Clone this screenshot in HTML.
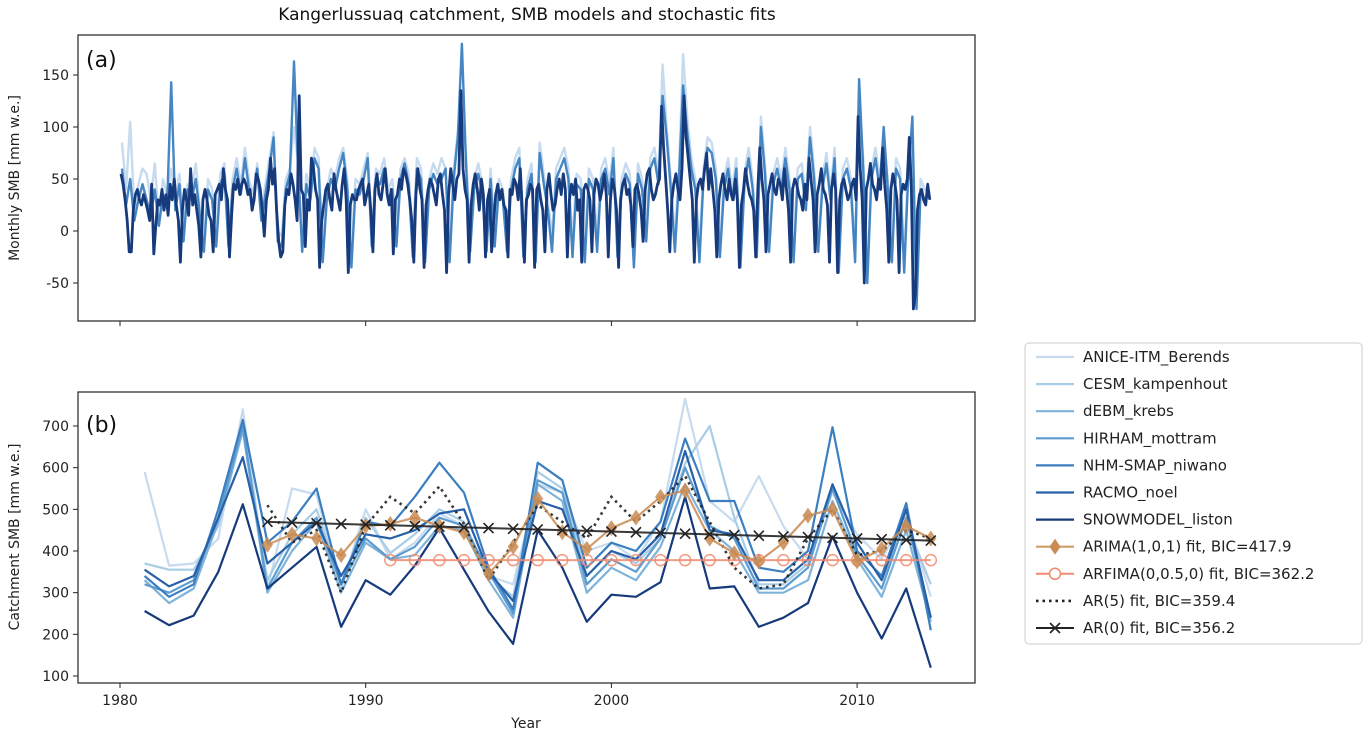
<!DOCTYPE html>
<html><head><meta charset="utf-8">
<style>
body{margin:0;background:#fff;font-family:"Liberation Sans","DejaVu Sans",sans-serif;}
svg text{font-family:"DejaVu Sans","Liberation Sans",sans-serif;}
</style></head>
<body>
<svg id="chart" width="1370" height="738" viewBox="0 0 1370 738" xmlns="http://www.w3.org/2000/svg">
<text x="527" y="20" text-anchor="middle" font-size="17" fill="#111">Kangerlussuaq catchment, SMB models and stochastic fits</text>
<g id="pa"></g>
<g id="pb"></g>
<g id="leg"></g>
</svg>
<script>
const modelNames=["ANICE-ITM_Berends","CESM_kampenhout","dEBM_krebs","HIRHAM_mottram","NHM-SMAP_niwano","RACMO_noel","SNOWMODEL_liston"];
const modelColors=["#c6dbef","#a8cde5","#7fb3da","#5b9bd0","#3c7fc0","#2760a8","#163a7c"];
const annYears=[];for(let y=1981;y<=2013;y++)annYears.push(y);
const aniceAnn=[590,365,370,430,740,310,550,535,310,500,380,420,490,460,340,320,560,540,400,420,380,470,765,520,470,580,460,380,540,440,380,490,290];
const cesmAnn=[370,355,355,460,690,330,440,500,320,480,395,440,500,470,340,290,590,550,340,400,370,430,610,700,480,320,320,370,560,420,330,470,320];
const debmAnn=[330,275,310,470,690,300,400,470,300,420,380,390,460,450,330,240,560,520,300,360,330,410,560,450,400,300,300,330,520,380,290,450,230];
const hirhamAnn=[320,300,330,480,700,310,420,480,320,430,380,410,480,460,350,250,570,540,320,380,350,430,600,460,430,310,310,360,550,390,310,480,240];
const nhmAnn=[340,290,320,500,715,420,470,550,320,470,460,530,612,540,360,260,612,570,360,420,400,470,670,520,520,360,350,400,697,400,340,515,210];
const racmoAnn=[355,315,340,480,625,370,420,470,340,440,430,450,490,500,350,280,520,500,340,400,380,440,640,450,440,330,330,380,560,420,330,500,240];
const snowAnn=[256,222,245,350,512,310,360,410,218,330,295,365,455,355,255,177,450,360,230,295,290,325,530,310,315,218,240,275,435,300,190,310,120];
const modelAnn=[aniceAnn,cesmAnn,debmAnn,hirhamAnn,nhmAnn,racmoAnn,snowAnn];
const fitYears=[];for(let y=1986;y<=2013;y++)fitYears.push(y);
const arimaVals=[415,440,430,390,460,465,480,460,445,345,410,525,445,405,455,480,530,545,430,395,375,420,485,500,375,405,460,430];
const ar5Vals=[510,420,450,300,460,530,490,555,465,330,420,510,470,430,530,470,520,580,470,360,310,320,430,500,390,400,450,430];
const arfimaYears=[];for(let y=1991;y<=2013;y++)arfimaYears.push(y);
const arfimaVals=arfimaYears.map(()=>378);
const ar0Start=470, ar0End=425;
const yTicksA=[-50,0,50,100,150];
const yTicksB=[100,200,300,400,500,600,700];
const xTicks=[1980,1990,2000,2010];
const snowMonthly=[
55,45,30,10,-20,-20,20,35,40,30,25,35,
28,20,10,45,-22,5,30,25,40,20,35,15,
45,30,50,25,10,-30,20,40,30,15,60,25,
35,20,5,-25,30,40,30,15,10,-20,35,40,
45,30,60,40,30,-25,15,45,40,50,35,45,
50,45,35,40,20,30,55,50,40,20,-5,30,
40,70,45,60,20,-10,-25,-20,25,40,35,55,
45,30,10,130,40,35,-15,30,20,70,60,40,
30,-35,10,25,40,45,30,20,55,40,30,20,
45,60,30,-40,25,35,30,30,40,45,50,25,
35,45,20,-20,40,55,35,30,45,60,35,25,
40,-22,30,35,50,40,60,55,45,30,10,-30,
35,60,40,30,-35,25,40,50,45,35,25,50,
55,35,20,-40,35,60,45,30,50,55,135,60,
40,30,-30,25,45,55,40,20,50,35,-25,30,
40,-20,10,35,45,30,40,25,20,-25,40,35,
50,45,30,60,20,-30,30,35,45,40,-35,40,
45,30,20,-20,40,55,35,20,25,40,50,35,
55,40,-25,30,45,35,50,20,30,-30,40,45,
40,30,-20,35,50,45,30,40,55,35,-25,30,
50,40,20,-35,30,45,50,35,40,25,-15,40,
45,35,20,-10,40,55,60,40,30,35,45,50,
120,80,50,20,-20,30,45,55,40,30,60,130,
90,70,50,30,-30,30,45,50,40,60,75,40,
60,40,20,-25,30,45,55,40,30,50,35,30,
50,30,-35,25,40,60,45,35,30,20,-25,40,
80,50,30,-20,35,45,55,40,35,50,45,30,
60,40,20,-30,40,50,45,35,30,20,45,30,
70,50,30,-20,35,45,60,40,35,25,-30,40,
55,40,-40,30,45,50,40,30,35,45,50,30,
110,60,30,-50,40,50,65,45,40,30,50,40,
80,45,20,-30,40,55,45,30,-40,35,45,40,
50,90,40,-75,-60,20,35,40,30,25,45,30];
const nhmBimonthly=[
60,25,50,10,30,45, 30,15,40,5,35,25, 143,20,45,-10,40,30, 50,15,-20,40,30,-15,
45,55,-15,40,60,35, 70,40,25,60,10,35, 60,90,-10,-15,40,55, 163,60,-20,45,30,70,
60,-30,30,50,40,60, 75,40,-35,40,35,50, 70,-15,50,45,60,30, 40,-15,50,65,45,-25,
60,50,-30,40,55,45, 50,60,-30,50,90,180, 65,-20,40,55,35,-20, 50,-15,40,30,-20,40,
60,70,-25,40,55,-30, 75,45,20,-20,50,60, 70,50,-25,45,40,-30, 50,40,-20,50,60,35,
70,-25,40,55,45,-35, 55,40,-10,60,70,45, 130,90,40,-20,50,140, 95,60,40,-30,50,80,
75,50,-25,40,60,30, 60,-35,45,70,40,-25, 100,55,-20,45,60,40, 70,40,-30,50,55,20,
90,50,-20,40,65,30, 70,-40,50,60,40,-30, 146,60,-50,50,70,40, 100,40,-30,60,50,-40,
55,110,-75,40,30,35];
const aniceBimonthly=[
85,40,105,20,45,60, 55,30,65,10,50,35, 60,30,55,0,45,40, 65,20,-10,50,40,0,
55,65,-5,50,70,45, 80,50,35,65,20,45, 70,95,0,-5,50,60, 100,65,-10,55,40,80,
70,-15,40,60,50,70, 80,50,-20,50,45,60, 75,0,60,55,70,40, 50,0,60,70,55,-10,
70,60,-15,50,65,55, 70,60,-15,60,95,120, 75,-5,50,65,45,-5, 60,0,50,40,-5,50,
70,80,-10,50,65,-15, 85,55,30,-5,60,70, 80,60,-10,55,50,-15, 60,50,-5,60,70,45,
80,-10,50,65,55,-20, 65,50,0,70,80,55, 160,100,50,-5,60,170, 110,70,50,-15,60,90,
85,60,-10,50,70,40, 70,-20,55,80,50,-10, 110,65,-5,55,70,50, 80,50,-15,60,65,30,
100,60,-5,50,75,40, 80,-25,60,70,50,-15, 120,70,-35,60,80,50, 90,50,-15,70,60,-25,
65,90,-55,50,40,40];
const NS="http://www.w3.org/2000/svg";
function el(tag,attrs,parent){const e=document.createElementNS(NS,tag);for(const k in attrs)e.setAttribute(k,attrs[k]);parent.appendChild(e);return e;}
const L=78,R=975;
const xs=y=>120+(y-1980)*24.57;
const yA=v=>231-v*1.04;
const yB=v=>676-(v-100)*0.41667;
const pa=document.getElementById('pa'),pb=document.getElementById('pb'),leg=document.getElementById('leg');
function series(vals,perYr,color,w,op){
  const pts=vals.map((v,i)=>xs(1980+(i+0.5)/perYr).toFixed(1)+","+yA(v).toFixed(1)).join(" ");
  const p=el('polyline',{points:pts,fill:'none',stroke:color,'stroke-width':w,'stroke-opacity':op,'stroke-linejoin':'round'},pa);
  
  
}
series(aniceBimonthly,6,modelColors[0],2.4,1);
series(nhmBimonthly,6,modelColors[4],2.4,0.95);
series(snowMonthly,12,modelColors[6],2.8,1);
el('rect',{x:L,y:35,width:R-L,height:286,fill:'none',stroke:'#222','stroke-width':1.2},pa);
yTicksA.forEach(v=>{el('line',{x1:L-5,x2:L,y1:yA(v),y2:yA(v),stroke:'#222'},pa);
 const t=el('text',{x:L-9,y:yA(v)+5,'text-anchor':'end','font-size':14,fill:'#222'},pa);t.textContent=v;
 
 });
xTicks.forEach(v=>el('line',{x1:xs(v),x2:xs(v),y1:321,y2:326,stroke:'#222'},pa));
let t=el('text',{x:86,y:67,'font-size':22,fill:'#111'},pa);t.textContent='(a)';
t=el('text',{x:0,y:0,'font-size':14,fill:'#222','text-anchor':'middle',transform:'translate(19,178) rotate(-90)'},pa);t.textContent='Monthly SMB [mm w.e.]';

modelAnn.forEach((arr,k)=>{
  const pts=arr.map((v,i)=>xs(annYears[i]).toFixed(1)+","+yB(v).toFixed(1)).join(" ");
  const p=el('polyline',{points:pts,fill:'none',stroke:modelColors[k],'stroke-width':2.2,'stroke-linejoin':'round'},pb);
  
  
});
let pts=arfimaVals.map((v,i)=>xs(arfimaYears[i])+","+yB(v)).join(" ");
el('polyline',{points:pts,fill:'none',stroke:'#f08a6e','stroke-width':2,'stroke-opacity':0.85},pb);
arfimaVals.forEach((v,i)=>{const c=el('circle',{cx:xs(arfimaYears[i]),cy:yB(v),r:5.5,fill:'none',stroke:'#f08a6e','stroke-width':1.5,'stroke-opacity':0.85},pb);
 
 });
pts=ar5Vals.map((v,i)=>xs(fitYears[i])+","+yB(v)).join(" ");
el('polyline',{points:pts,fill:'none',stroke:'#222','stroke-width':2.6,'stroke-dasharray':'2.5,4','stroke-opacity':0.9},pb);
pts=arimaVals.map((v,i)=>xs(fitYears[i])+","+yB(v)).join(" ");
el('polyline',{points:pts,fill:'none',stroke:'#c98b52','stroke-width':2.2,'stroke-opacity':0.85},pb);
arimaVals.forEach((v,i)=>{const x=xs(fitYears[i]),y=yB(v);const d=el('polygon',{points:`${x},${y-8} ${x+5.5},${y} ${x},${y+8} ${x-5.5},${y}`,fill:'#c98b52','fill-opacity':0.85},pb);
 
 });
const ar0=fitYears.map((y,i)=>ar0Start+(ar0End-ar0Start)*i/(fitYears.length-1));
el('line',{x1:xs(fitYears[0]),y1:yB(ar0Start),x2:xs(fitYears[fitYears.length-1]),y2:yB(ar0End),stroke:'#222','stroke-width':2,'stroke-opacity':0.9},pb);
ar0.forEach((v,i)=>{const x=xs(fitYears[i]),y=yB(v);const g=el('path',{d:`M${x-5},${y-5}L${x+5},${y+5}M${x-5},${y+5}L${x+5},${y-5}`,stroke:'#222','stroke-width':1.6},pb);
 
 });
el('rect',{x:L,y:392,width:R-L,height:291,fill:'none',stroke:'#222','stroke-width':1.2},pb);
yTicksB.forEach(v=>{el('line',{x1:L-5,x2:L,y1:yB(v),y2:yB(v),stroke:'#222'},pb);
 const t=el('text',{x:L-9,y:yB(v)+5,'text-anchor':'end','font-size':14,fill:'#222'},pb);t.textContent=v;
 
 });
xTicks.forEach(v=>{el('line',{x1:xs(v),x2:xs(v),y1:683,y2:688,stroke:'#222'},pb);
 const t=el('text',{x:xs(v),y:705,'text-anchor':'middle','font-size':14,fill:'#222'},pb);t.textContent=v;
 
 });
t=el('text',{x:86,y:432,'font-size':22,fill:'#111'},pb);t.textContent='(b)';
t=el('text',{x:526,y:728,'font-size':14,fill:'#222','text-anchor':'middle'},pb);t.textContent='Year';

t=el('text',{x:0,y:0,'font-size':14,fill:'#222','text-anchor':'middle',transform:'translate(19,537) rotate(-90)'},pb);t.textContent='Catchment SMB [mm w.e.]';

el('rect',{x:1025,y:343,width:337,height:301,rx:4,fill:'#fff',stroke:'#ccc'},leg);
const legLabels=modelNames.concat(["ARIMA(1,0,1) fit, BIC=417.9","ARFIMA(0,0.5,0) fit, BIC=362.2","AR(5) fit, BIC=359.4","AR(0) fit, BIC=356.2"]);
legLabels.forEach((lab,i)=>{
  const y=357+i*27.1, x1=1036,x2=1074,xm=1055;
  const g=el('g',{},leg);
  
  
  if(i<7) el('line',{x1,x2,y1:y,y2:y,stroke:modelColors[i],'stroke-width':2.2},g);
  else if(i===7){el('line',{x1,x2,y1:y,y2:y,stroke:'#c98b52','stroke-width':2.2,'stroke-opacity':0.85},g);el('polygon',{points:`${xm},${y-8} ${xm+5.5},${y} ${xm},${y+8} ${xm-5.5},${y}`,fill:'#c98b52'},g);}
  else if(i===8){el('line',{x1,x2,y1:y,y2:y,stroke:'#f08a6e','stroke-width':2},g);el('circle',{cx:xm,cy:y,r:5.5,fill:'#fff',stroke:'#f08a6e','stroke-width':1.5},g);}
  else if(i===9) el('line',{x1,x2,y1:y,y2:y,stroke:'#222','stroke-width':2.6,'stroke-dasharray':'2.5,4'},g);
  else {el('line',{x1,x2,y1:y,y2:y,stroke:'#222','stroke-width':2},g);el('path',{d:`M${xm-5},${y-5}L${xm+5},${y+5}M${xm-5},${y+5}L${xm+5},${y-5}`,stroke:'#222','stroke-width':1.6},g);}
  const tt=el('text',{x:1083,y:y+5,'font-size':15,fill:'#222'},g);tt.textContent=lab;
});
</script>
</body></html>
